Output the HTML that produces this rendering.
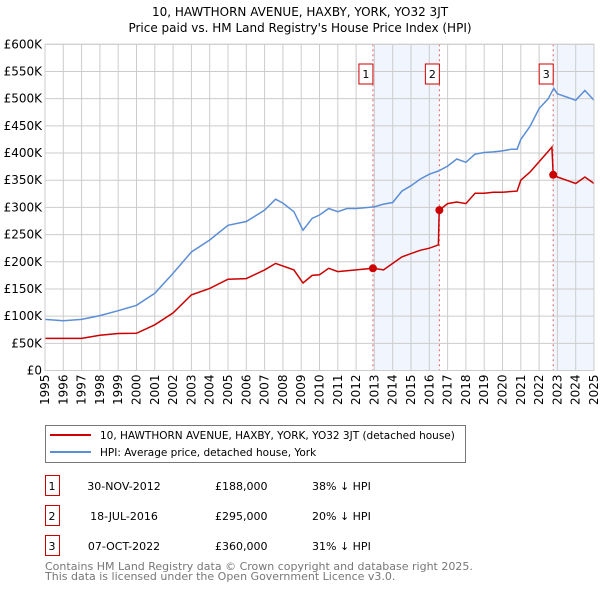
<!DOCTYPE html>
<html><head><meta charset="utf-8"><style>
body{margin:0;background:#fff;width:600px;height:590px;overflow:hidden}
svg text{font-family:"DejaVu Sans","Liberation Sans",sans-serif}
</style></head><body>
<svg id="chart" width="600" height="590" xmlns="http://www.w3.org/2000/svg">
<text x="300" y="16" text-anchor="middle" font-size="12">10, HAWTHORN AVENUE, HAXBY, YORK, YO32 3JT</text>
<text x="300" y="32" text-anchor="middle" font-size="12">Price paid vs. HM Land Registry's House Price Index (HPI)</text>
<g id="plot"></g>
<g>
<rect x="45.5" y="425.5" width="420" height="37" fill="#fff" stroke="#777"/>
<line x1="50" y1="435" x2="91" y2="435" stroke="#cc0000" stroke-width="2"/>
<text x="100" y="439" font-size="10.5">10, HAWTHORN AVENUE, HAXBY, YORK, YO32 3JT (detached house)</text>
<line x1="50" y1="452" x2="91" y2="452" stroke="#5b8ed6" stroke-width="2"/>
<text x="100" y="456" font-size="10.5">HPI: Average price, detached house, York</text>
</g>
<g id="table" font-size="11"></g>
<text x="45" y="570" font-size="11" fill="#777">Contains HM Land Registry data © Crown copyright and database right 2025.</text>
<text x="45" y="580" font-size="11" fill="#777">This data is licensed under the Open Government Licence v3.0.</text>
</svg>
<script>
const hpiYears=[1995,1996,1997,1998,1999,2000,2001,2002,2003,2004,2005,2006,2007,2007.6,2008,2008.6,2009.1,2009.6,2010,2010.5,2011,2011.5,2012,2013,2013.5,2014,2014.5,2015,2015.5,2016,2016.5,2017,2017.5,2018,2018.5,2019,2019.5,2020,2020.5,2020.8,2021,2021.5,2022,2022.5,2022.8,2023,2023.5,2024,2024.5,2025];
const hpiValues=[94000,91500,94000,101000,110000,120000,142000,179000,218000,240000,267000,274000,295000,315000,308000,292000,258000,280000,286000,298000,292000,298000,298000,301000,306000,309000,330000,340000,352000,361000,367000,376000,389000,383000,398000,401000,402000,404000,407000,407000,425000,449000,482000,500000,519000,509000,503000,497000,515000,497000];
const ppYears=[1995,1997,1998,1999,2000,2001,2002,2003,2004,2005,2006,2007,2007.6,2008.6,2009.1,2009.6,2010,2010.5,2011,2012,2012.92,2013.5,2014,2014.5,2015,2015.5,2016,2016.5,2016.54,2017,2017.5,2018,2018.5,2019,2019.5,2020,2020.8,2021,2021.5,2022,2022.7,2022.77,2023,2023.5,2024,2024.5,2025];
const ppValues=[59000,59000,65000,68000,68500,84000,106000,139000,151000,168000,169000,185000,197000,185000,161000,175000,176000,188000,182000,185000,188000,185000,197000,209000,215000,221000,225000,231000,295000,307000,310000,307000,326000,326000,328000,328000,330000,350000,365000,384000,411000,360000,356000,350000,344000,356000,344000];
const saleLabels=["1","2","3"];
const saleYears=[2012.92,2016.55,2022.77];
const saleValues=[188000,295000,360000];
const saleDates=["30-NOV-2012","18-JUL-2016","07-OCT-2022"];
const salePrices=["£188,000","£295,000","£360,000"];
const saleDiffs=["38% ↓ HPI","20% ↓ HPI","31% ↓ HPI"];
const yTicks=[0,50000,100000,150000,200000,250000,300000,350000,400000,450000,500000,550000,600000];
const yTickLabels=["£0","£50K","£100K","£150K","£200K","£250K","£300K","£350K","£400K","£450K","£500K","£550K","£600K"];
const xTicks=[1995,1996,1997,1998,1999,2000,2001,2002,2003,2004,2005,2006,2007,2008,2009,2010,2011,2012,2013,2014,2015,2016,2017,2018,2019,2020,2021,2022,2023,2024,2025];

const L=45,R=594,T=44.3,B=370.5;
const xs=y=>L+(y-1995)/30*(R-L);
const ys=v=>B-v/600000*(B-T);
const NS="http://www.w3.org/2000/svg";
const plot=document.getElementById('plot');
function mk(tag,attrs,parent){const e=document.createElementNS(NS,tag);for(const k in attrs)e.setAttribute(k,attrs[k]);parent.appendChild(e);return e;}
[[0,1],[2,null]].forEach((p,i)=>{
 const x1=xs(saleYears[p[0]]),x2=p[1]===null?R:xs(saleYears[p[1]]);
 const r=mk('rect',{x:x1,y:T,width:x2-x1,height:B-T,fill:'#eef3fc',opacity:0.8},plot);
 
 
});
xTicks.forEach((t,i)=>{
 const l=mk('line',{x1:xs(t),x2:xs(t),y1:T,y2:B,stroke:'#cccccc'},plot);
 
 
 const x=xs(t)+4,y=B+4;
 const tx=mk('text',{x:x,y:y,'text-anchor':'end','font-size':12,transform:'rotate(-90 '+x+' '+y+')'},plot);
 tx.textContent=t;
 
 
});
yTicks.forEach((t,i)=>{
 const l=mk('line',{x1:L,x2:R,y1:ys(t),y2:ys(t),stroke:'#cccccc'},plot);
 
 
 const tx=mk('text',{x:L-3,y:ys(t)+4,'text-anchor':'end','font-size':12},plot);
 tx.textContent=yTickLabels[i];
 
 
});
saleYears.forEach((y,i)=>{
 const l=mk('line',{x1:xs(y),x2:xs(y),y1:T,y2:B,stroke:'#e06060','stroke-dasharray':'2,3'},plot);
 
 
});
function path(xa,va,color,name){
 const d=xa.map((x,i)=>(i?'L':'M')+xs(x).toFixed(1)+','+ys(va[i]).toFixed(1)).join('');
 const p=mk('path',{d:d,fill:'none',stroke:color,'stroke-width':1.5},plot);
 
 
}
path(hpiYears,hpiValues,'#5b8ed6','hpi-line');
path(ppYears,ppValues,'#cc0000','price-paid-line');
saleYears.forEach((y,i)=>{
 const c=mk('circle',{cx:xs(y),cy:ys(saleValues[i]),r:4,fill:'#cc0000'},plot);
 
 
 const bx=xs(y)-7;
 const r=mk('rect',{x:bx-7,y:64,width:14,height:20,fill:'#fff',stroke:'#cc0000'},plot);
 
 
 const t=mk('text',{x:bx,y:78,'text-anchor':'middle','font-size':11},plot);
 t.textContent=saleLabels[i];
 
 
});
mk('rect',{x:L,y:T,width:R-L,height:B-T,fill:'none',stroke:'#cccccc'},plot);
const table=document.getElementById('table');
saleLabels.forEach((s,i)=>{
 const y0=475+i*30;
 const r=mk('rect',{x:45.5,y:y0+0.5,width:14,height:20,fill:'#fff',stroke:'#cc0000'},table);
 
 
 const cells=[[52,s,'middle'],[124,saleDates[i],'middle'],[215,salePrices[i],'start'],[312,saleDiffs[i],'start']];
 cells.forEach(c=>{
  const t=mk('text',{x:c[0],y:y0+15,'text-anchor':c[2]},table);
  t.textContent=c[1];
  
  
 });
});
</script>
</body></html>
